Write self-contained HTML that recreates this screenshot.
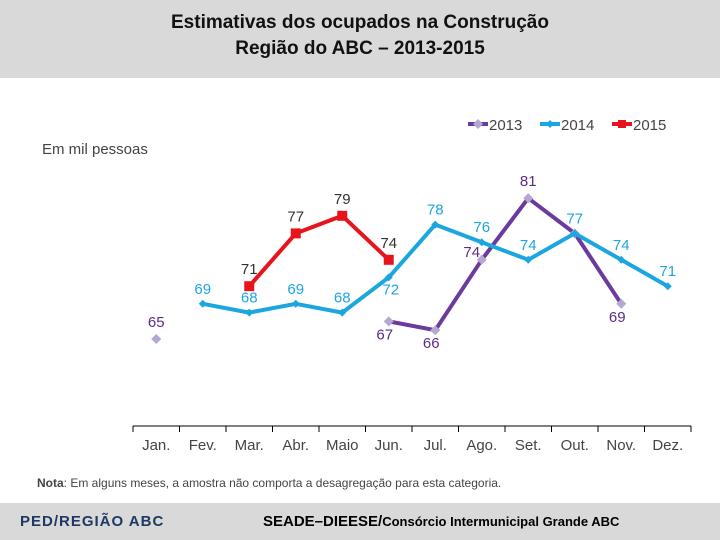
<!DOCTYPE html>
<html><head><meta charset="utf-8"><style>
body{margin:0;width:720px;height:540px;overflow:hidden;background:#fff;font-family:"Liberation Sans",sans-serif;position:relative}
#hdr{position:absolute;left:0;top:0;width:720px;height:78px;background:#d9d9d9;text-align:center}
#hdr div{font-weight:bold;font-size:19px;line-height:26px;color:#111}
#ftr{position:absolute;left:0;top:503px;width:720px;height:37px;background:#d9d9d9}
</style></head><body>
<div id="hdr"><div style="padding-top:10px">Estimativas dos ocupados na Construção</div><div>Região do ABC – 2013-2015</div></div>
<div id="ftr">
<div style="position:absolute;left:20px;top:10px;font-size:15px;font-weight:bold;color:#1f3864;letter-spacing:1px">PED/REGIÃO ABC</div>
<div style="position:absolute;left:263px;top:10px;font-size:15px;font-weight:bold;color:#000">SEADE–DIEESE/<span style="font-size:13px">Consórcio Intermunicipal Grande ABC</span></div>
</div>
<svg id="chart" width="720" height="500" style="position:absolute;left:0;top:0"></svg>
<script>
const months=["Jan.","Fev.","Mar.","Abr.","Maio","Jun.","Jul.","Ago.","Set.","Out.","Nov.","Dez."];
const s2013=[65,null,null,null,null,67,66,74,81,77,69,null];
const s2014=[null,69,68,69,68,72,78,76,74,77,74,71];
const s2015=[null,null,71,77,79,74,null,null,null,null,null,null];
const p2013=["above","","","","","below","below","left","above","none","below",""];
const p2014=["","above","above","above","above","belowright","above","above","above","above","above","above"];
const p2015=["","","above","above","above","above","","","","","","",""];
const NS="http://www.w3.org/2000/svg";
const svg=document.getElementById('chart');
const x0=133,cw=46.5,axisY=426;
function xs(i){return x0+cw*(i+0.5);}
function ys(v){return 339-(v-65)*8.8;}
function mk(t,a){const e=document.createElementNS(NS,t);for(const k in a)e.setAttribute(k,a[k]);svg.appendChild(e);return e;}
// axis
let ax=mk('line',{x1:x0,y1:axisY,x2:x0+cw*12,y2:axisY,stroke:'#000','stroke-width':1});


for(let i=0;i<=12;i++){let t=mk('line',{x1:x0+cw*i,y1:axisY,x2:x0+cw*i,y2:axisY+6,stroke:'#000'});

}
months.forEach((m,i)=>{let t=mk('text',{x:xs(i),y:450,'text-anchor':'middle','font-size':15,fill:'#444'});t.textContent=m;

});
function series(data,pl,color,lblColor,marker,name){
 let segs=[],cur=[];
 data.forEach((v,i)=>{if(v==null){if(cur.length)segs.push(cur);cur=[];}else cur.push([xs(i),ys(v)]);});
 if(cur.length)segs.push(cur);
 segs.forEach(s=>{if(s.length>1){let p=mk('polyline',{points:s.map(q=>q.join(',')).join(' '),fill:'none',stroke:color,'stroke-width':4,'stroke-linejoin':'round'});
 
 }});
 data.forEach((v,i)=>{if(v==null)return;const x=xs(i),y=ys(v);let m;
  if(marker=='diamond')m=mk('polygon',{points:`${x},${y-5} ${x+5},${y} ${x},${y+5} ${x-5},${y}`,fill:'#b4a7d0'});
  else if(marker=='square')m=mk('rect',{x:x-5,y:y-5,width:10,height:10,fill:color});
  else m=mk('polygon',{points:`${x},${y-4} ${x+4},${y} ${x},${y+4} ${x-4},${y}`,fill:color});
  
  
  const p=pl[i];if(p=='none')return;
  let lx=x,ly=y-12;
  if(p=='below'){lx=x-4;ly=y+18;}else if(p=='left'){lx=x-10;ly=y-3;}else if(p=='belowright'){lx=x+2;ly=y+17;}
  if(name=='s2014'&&p=='above'){lx=x;ly=y-10;}
  let t=mk('text',{x:lx,y:ly,'text-anchor':'middle','font-size':15,fill:lblColor});t.textContent=v;
  
  
 });
}
series(s2013,p2013,'#6b3a9e','#5b2d86','diamond','s2013');
series(s2014,p2014,'#1ca6df','#1ca6df','small','s2014');
series(s2015,p2015,'#e8141c','#333','square','s2015');
// legend
const leg=[["2013","#6b3a9e","diamond",468],["2014","#1ca6df","small",540],["2015","#e8141c","square",612]];
leg.forEach(l=>{let ln=mk('line',{x1:l[3],y1:124,x2:l[3]+20,y2:124,stroke:l[1],'stroke-width':4});


let cx=l[3]+10,m;
if(l[2]=='diamond')m=mk('polygon',{points:`${cx},119 ${cx+5},124 ${cx},129 ${cx-5},124`,fill:'#b4a7d0'});
else if(l[2]=='square')m=mk('rect',{x:cx-4,y:120,width:8,height:8,fill:l[1]});
else m=mk('polygon',{points:`${cx},120 ${cx+4},124 ${cx},128 ${cx-4},124`,fill:l[1]});


let t=mk('text',{x:l[3]+21,y:130,'font-size':15,fill:'#444'});t.textContent=l[0];

});
let u=mk('text',{x:42,y:154,'font-size':15,fill:'#444'});u.textContent='Em mil pessoas';


let n=mk('text',{x:37,y:487,'font-size':12,fill:'#444'});n.innerHTML='<tspan font-weight="bold">Nota</tspan>: Em alguns meses, a amostra não comporta a desagregação para esta categoria.';


</script>
</body></html>
